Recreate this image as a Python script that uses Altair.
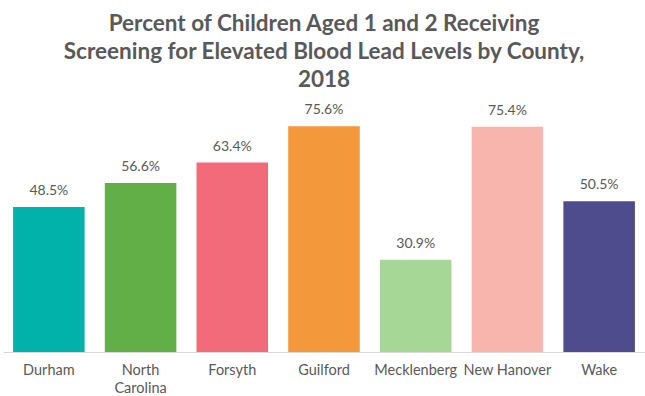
import altair as alt
import pandas as pd

counties = ["Durham", "North Carolina", "Forsyth", "Guilford", "Mecklenberg", "New Hanover", "Wake"]
values = [48.5, 56.6, 63.4, 75.6, 30.9, 75.4, 50.5]
colors = ["#00B2A9", "#62AE47", "#F26B7A", "#F3983B", "#A6D796", "#F8B5AE", "#4E4C8C"]

df = pd.DataFrame({"county": counties, "value": values})
df["label"] = df["value"].map(lambda v: f"{v:.1f}%")

FONT = "Lato"
GREY = "#595959"

x = alt.X("county:N", sort=counties, title=None,
          scale=alt.Scale(paddingInner=0.22, paddingOuter=0.11),
          axis=alt.Axis(labelAngle=0, ticks=False, domainColor="#D9D9D9", domainWidth=1,
                        labelColor=GREY, labelFont=FONT, labelFontSize=14.5, labelPadding=11,
                        labelLineHeight=18,
                        labelExpr="datum.label == 'North Carolina' ? ['North', 'Carolina'] : datum.label"))
y = alt.Y("value:Q", scale=alt.Scale(domain=[0, 80]), axis=None)

bars = alt.Chart(df).mark_bar().encode(
    x=x, y=y,
    color=alt.Color("county:N", scale=alt.Scale(domain=counties, range=colors), legend=None),
)
text = alt.Chart(df).mark_text(dy=-9, baseline="bottom", font=FONT, fontSize=14, color=GREY).encode(
    x=alt.X("county:N", sort=counties), y="value:Q", text="label:N"
)

chart = (bars + text).properties(
    width=642, height=239,
    background="white",
    autosize=alt.AutoSizeParams(type="none"),
    padding={"left": 3, "top": 113, "right": 0, "bottom": 44},
    title=alt.TitleParams(
        ["Percent of Children Aged 1 and 2 Receiving",
         "Screening for Elevated Blood Lead Levels by County,",
         "2018"],
        font=FONT, fontSize=22.5, fontWeight="bold", color=GREY, lineHeight=28,
        anchor="middle", offset=12,
    ),
).configure_view(strokeWidth=0, stroke=None)

chart.save("out.html", embed_options={"renderer": "svg", "actions": False})
